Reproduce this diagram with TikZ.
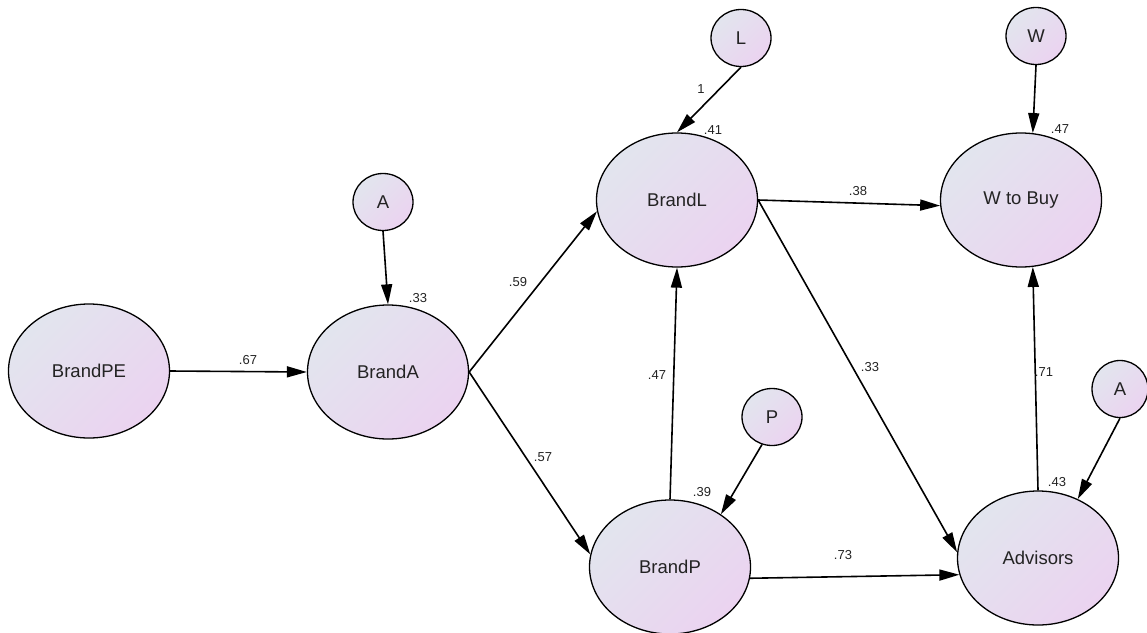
\documentclass[tikz,border=0pt]{standalone}
\usepackage{fontspec}
\setmainfont{Liberation Sans}
\usetikzlibrary{arrows.meta,shapes.geometric}
\definecolor{latA}{RGB}{226,229,238}
\definecolor{latB}{RGB}{235,211,240}
\definecolor{ink}{RGB}{35,35,35}
\begin{document}
\begin{tikzpicture}[x=1pt,y=-1pt,
  latent/.style={ellipse, draw=black, line width=1.3pt, top color=latA, bottom color=latB,
    shading angle=45, inner sep=0pt, font=\fontsize{18.5}{20}\selectfont, text=ink},
  big/.style={latent, minimum width=161pt, minimum height=134pt},
  err/.style={latent, minimum width=60pt, minimum height=57pt},
  path/.style={line width=1.6pt, draw=black, -{Triangle[length=20pt,width=11pt]}},
  coef/.style={font=\fontsize{13}{14}\selectfont, text=ink, inner sep=0pt}]
\useasboundingbox (0,0) rectangle (1147,632);

% latent variables
\node[big] (pe) at (89,371) {BrandPE};
\node[big] (ba) at (388,372) {BrandA};
\node[big] (bl) at (677,200) {BrandL};
\node[big] (wb) at (1021,200) {W to Buy};
\node[big] (bp) at (670,567) {BrandP};
\node[big] (ad) at (1038,558) {Advisors};

% error terms
\node[err] (ea) at (383,202) {A};
\node[err] (el) at (741,38) {L};
\node[err] (ew) at (1036,36) {W};
\node[err] (ep) at (772,417) {P};
\node[err, minimum width=56pt] (ev) at (1120,389) {A};

% structural paths
\draw[path] (pe.east) -- (ba.west);
\draw[path] (ea.south) -- (ba.north);
\draw[path] (ba.east) -- (bl.188);
\draw[path] (ba.east) -- (bp.171);
\draw[path] (el.south) -- (bl.north);
\draw[path] (ew.south) -- (wb.80);
\draw[path] (ep.250) -- (bp.46);
\draw[path] (bp.north) -- (bl.south);
\draw[path] (bl.east) -- (wb.184);
\draw[path] (bl.east) -- (ad.176);
\draw[path] (bp.-8) -- (ad.192);
\draw[path] (ad.north) -- (wb.280);
\draw[path] (ev.south) -- (ad.56);

% path coefficients and squared multiple correlations
\node[coef] (c1) at (248,360) {.67};
\node[coef] (c2) at (418,298) {.33};
\node[coef] (c3) at (518,282) {.59};
\node[coef] (c4) at (543,457) {.57};
\node[coef] (c5) at (701,89) {1};
\node[coef] (c6) at (713,130) {.41};
\node[coef] (c7) at (1060,129) {.47};
\node[coef] (c8) at (858,191) {.38};
\node[coef] (c9) at (870,367) {.33};
\node[coef] (c10) at (657,375) {.47};
\node[coef] (c11) at (702,492) {.39};
\node[coef] (c12) at (1044,372) {.71};
\node[coef] (c13) at (1057,482) {.43};
\node[coef] (c14) at (843,555) {.73};
\end{tikzpicture}
\end{document}
